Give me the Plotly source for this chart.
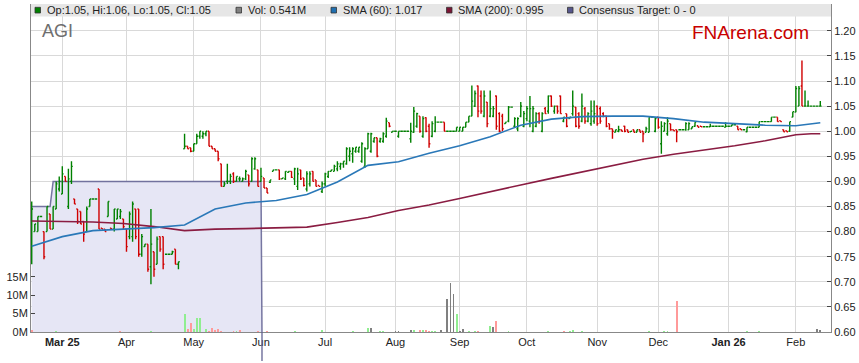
import pandas as pd
import plotly.graph_objects as go

# ---------------- data ----------------
dates = pd.bdate_range("2025-02-17", "2026-02-12")  # trading-day axis (weekdays)

opens = [
    .815, .80, .80, .83, .80, .80, .835, .805, .845, .885,
    .875, .91, .85, .90, .865, .845, .84, .82, .80, .85,
    .865, .865, .885, .807, .805, .83, .807, .805, .825, .83,
    .825, .805, .79, .79, .845, .845, .755, .77, .775, .73,
    .76, .735, .79, .79, .755, .755, .755, .765, .735, None,
    .965, .97, .967, .96, .975, .99, .99, .995, 1.00, .97,
    .965, .96, .935, .89, .90, .90, .915, .90, .905, .90,
    .905, .913, .90, .925, .923, .90, .907, .887, .898, .92,
    .923, .923, .905, .905, .918, .92, .905, .89, .923, .907,
    .885, .895, .92, .903, .892, .88, .895, .91, .92, .92,
    .925, .93, .935, .935, .95, .955, .96, .96, .94, .93,
    .965, .96, .98, .987, .98, .98, .99, 1.017, .998, 1.0,
    .99, 1.0, 1.0, 1.0, .985, .998, 1.01, 1.03, .99, 1.027,
    1.01, .99, 1.0, 1.018, 1.018, 1.018, 1.0, 1.0, 1.0, 1.0,
    1.0, 1.0, 1.008, 1.018, 1.03, 1.05, 1.09, 1.07, 1.03, 1.058,
    1.03, 1.03, 1.07, 1.035, 1.03, 1.015, 1.02, 1.048, 1.01, 1.005,
    1.03, 1.01, 1.025, 1.02, 1.0, 1.01, 1.035, 1.0, 1.045, 1.04,
    1.07, 1.04, 1.05, 1.07, 1.02, 1.035, 1.025, 1.035, 1.048, 1.035,
    1.02, 1.045, 1.02, 1.015, 1.02, 1.05, 1.045, 1.035, 1.03, 1.015,
    1.005, .998, 1.0, 1.003, 1.01, 1.003, .999, 1.003, .998, 1.003,
    1.0, .998, .998, 1.028, 1.0, 1.028, .975, 1.0, .995, 1.015,
    1.003, 1.003, 1.003, 1.003, 1.003, 1.003, 1.005, 1.01, 1.011, 1.01,
    1.009, 1.009, 1.009, 1.01, 1.01, 1.01, 1.01, 1.008, 1.01, 1.01,
    1.013, 1.01, 1.005, 1.003, .999, 1.008, 1.008, 1.008, 1.008, 1.019,
    1.019, 1.019, 1.019, 1.028, 1.028, 1.021, 1.003, 1.001, 1.0, 1.028,
    1.038, 1.05, 1.09, 1.05, 1.05, 1.05, 1.05, 1.05, 1.05,
]
highs = [
    .86, .815, .83, .83, .80, .85, .835, .85, .90, .91,
    .93, .91, .925, .94, .865, .845, .84, .82, .85, .865,
    .865, .865, .885, .807, .805, .86, .807, .845, .845, .845,
    .825, .805, .84, .86, .845, .845, .795, .775, .775, .845,
    .76, .79, .79, .79, .755, .755, .762, .765, .74, None,
    .995, .97, .967, .975, .995, 1.0, 1.0, 1.0, 1.0, .97,
    .965, .96, .935, .90, .935, .915, .918, .91, .91, .908,
    .923, .913, .948, .948, .923, .927, .907, .887, .903, .923,
    .923, .923, .907, .92, .92, .92, .927, .927, .923, .907,
    .92, .92, .92, .903, .892, .90, .917, .92, .923, .933,
    .94, .937, .94, .968, .968, .968, .968, .968, .978, .968,
    .997, .997, .987, .987, .987, .998, 1.027, 1.017, 1.0, 1.0,
    1.0, 1.0, 1.0, 1.0, 1.017, 1.048, 1.037, 1.03, 1.03, 1.028,
    1.015, 1.02, 1.03, 1.018, 1.018, 1.018, 1.0, 1.0, 1.0, 1.008,
    1.008, 1.008, 1.018, 1.03, 1.091, 1.081, 1.091, 1.081, 1.081, 1.058,
    1.081, 1.05, 1.071, 1.038, 1.035, 1.018, 1.05, 1.048, 1.028, 1.028,
    1.058, 1.04, 1.05, 1.07, 1.05, 1.038, 1.038, 1.038, 1.048, 1.071,
    1.071, 1.051, 1.051, 1.071, 1.028, 1.035, 1.028, 1.081, 1.048, 1.038,
    1.075, 1.048, 1.038, 1.061, 1.061, 1.051, 1.049, 1.038, 1.031, 1.015,
    1.005, 1.003, 1.011, 1.003, 1.011, 1.003, 1.0, 1.003, 1.003, 1.003,
    1.0, 1.009, 1.028, 1.028, 1.028, 1.028, 1.02, 1.018, 1.028, 1.015,
    1.003, 1.003, 1.003, 1.003, 1.018, 1.018, 1.009, 1.018, 1.011, 1.01,
    1.009, 1.009, 1.015, 1.01, 1.01, 1.01, 1.01, 1.018, 1.01, 1.013,
    1.013, 1.01, 1.005, 1.003, 1.008, 1.008, 1.008, 1.008, 1.019, 1.019,
    1.019, 1.019, 1.028, 1.028, 1.028, 1.021, 1.003, 1.001, 1.019, 1.039,
    1.09, 1.09, 1.141, 1.081, 1.061, 1.05, 1.05, 1.05, 1.06,
]
lows = [
    .735, .80, .80, .83, .745, .80, .805, .805, .845, .88,
    .875, .90, .845, .895, .855, .815, .815, .78, .80, .85,
    .865, .865, .805, .805, .80, .83, .804, .80, .825, .825,
    .805, .76, .785, .78, .785, .75, .75, .77, .72, .695,
    .71, .735, .76, .725, .755, .755, .755, .735, .725, None,
    .965, .965, .958, .96, .975, .985, .985, .99, .97, .965,
    .96, .94, .89, .89, .895, .895, .897, .90, .90, .90,
    .903, .89, .90, .923, .89, .90, .887, .877, .897, .92,
    .923, .903, .905, .903, .917, .907, .893, .883, .903, .89,
    .88, .89, .90, .89, .89, .877, .89, .907, .92, .92,
    .92, .923, .927, .933, .94, .937, .957, .957, .937, .927,
    .965, .957, .977, .948, .977, .977, .987, 1.008, .998, 1.0,
    .987, 1.0, 1.0, 1.0, .977, .997, 1.007, .997, .987, .998,
    .967, .988, .998, 1.018, 1.018, 1.0, 1.0, 1.0, 1.0, 1.0,
    1.0, 1.0, 1.008, 1.018, 1.03, 1.048, 1.028, 1.035, 1.028, 1.008,
    1.028, 1.028, 1.003, .998, 1.0, 1.015, 1.018, 1.048, 1.008, 1.0,
    1.028, 1.008, 1.02, 1.008, .998, 1.008, 1.015, .998, 1.035, 1.035,
    1.048, 1.035, 1.035, 1.035, 1.018, 1.008, 1.025, 1.031, 1.008, 1.005,
    1.018, 1.015, 1.018, 1.011, 1.015, 1.011, 1.015, 1.028, 1.008, 1.003,
    .985, .998, .998, 1.0, .998, .998, .999, .998, .998, .998,
    .978, .998, .998, 1.028, .998, 1.005, .955, 1.0, .991, 1.001,
    1.001, .978, 1.003, 1.003, 1.001, 1.003, 1.005, 1.009, 1.008, 1.009,
    1.009, 1.009, 1.009, 1.01, 1.01, 1.01, 1.01, 1.008, 1.01, 1.01,
    1.013, 1.003, 1.003, 1.003, .998, 1.008, 1.008, 1.008, 1.008, 1.019,
    1.019, 1.019, 1.019, 1.028, 1.019, 1.019, .999, .999, .999, 1.028,
    1.038, 1.05, 1.05, 1.05, 1.05, 1.05, 1.05, 1.05, 1.05,
]
closes = [
    .845, .815, .83, .83, .75, .85, .805, .85, .895, .90,
    .915, .90, .905, .93, .855, .82, .815, .795, .845, .865,
    .865, .865, .805, .805, .80, .86, .805, .845, .845, .84,
    .81, .77, .835, .855, .79, .755, .79, .775, .725, .775,
    .725, .785, .765, .735, .755, .755, .76, .735, .74, None,
    .97, .965, .96, .975, .99, 1.0, .995, 1.0, .97, .965,
    .96, .945, .89, .895, .90, .91, .90, .91, .905, .905,
    .92, .895, .945, .945, .89, .91, .887, .877, .903, .923,
    .923, .905, .907, .92, .92, .908, .925, .915, .905, .892,
    .915, .915, .90, .89, .89, .895, .915, .92, .923, .93,
    .935, .935, .94, .965, .96, .965, .968, .968, .975, .965,
    .995, .995, .987, .95, .985, .995, 1.02, 1.01, 1.0, 1.0,
    1.0, 1.0, 1.0, 1.0, 1.0, 1.04, 1.035, 1.0, 1.025, 1.0,
    .975, 1.015, 1.018, 1.018, 1.018, 1.0, 1.0, 1.0, 1.0, 1.008,
    1.008, 1.008, 1.018, 1.03, 1.06, 1.075, 1.04, 1.04, 1.07, 1.015,
    1.045, 1.045, 1.01, 1.0, 1.005, 1.018, 1.048, 1.048, 1.025, 1.025,
    1.05, 1.035, 1.045, 1.045, 1.045, 1.035, 1.02, 1.035, 1.035, 1.07,
    1.05, 1.05, 1.04, 1.035, 1.028, 1.01, 1.028, 1.05, 1.01, 1.01,
    1.05, 1.02, 1.035, 1.04, 1.035, 1.015, 1.02, 1.03, 1.01, 1.005,
    1.0, 1.003, 1.003, 1.0, 1.0, .998, 1.0, .998, 1.003, .998,
    .995, 1.005, 1.028, 1.028, 1.025, 1.008, 1.01, 1.015, 1.02, 1.003,
    1.001, .999, 1.003, 1.003, 1.015, 1.015, 1.009, 1.018, 1.008, 1.009,
    1.009, 1.009, 1.01, 1.01, 1.01, 1.01, 1.01, 1.01, 1.01, 1.013,
    1.013, 1.003, 1.003, 1.003, 1.008, 1.008, 1.008, 1.008, 1.019, 1.019,
    1.019, 1.019, 1.028, 1.028, 1.019, 1.019, .999, .999, 1.019, 1.039,
    1.085, 1.085, 1.05, 1.05, 1.05, 1.05, 1.05, 1.05, 1.05,
]
volumes_m = [
    0.45, 0, 0, 0, 0, 0, 0, 0, 0.2, 0,
    0, 0, 0, 0, 0, 0, 0, 0, 0, 0,
    0, 0, 0, 0, 0, 0, 0, 0, 0, 0.3,
    0, 0, 0, 0, 0, 0, 0, 0, 0, 0.2,
    0, 0, 0, 0, 0, 0, 0, 0, 0, 0,
    4.8, 0.7, 2.4, 0.7, 3.7, 3.9, 0, 0.7, 0.4, 1.0,
    0.55, 0.7, 0.3, 0, 0, 0, 0.2, 0.2, 0.45, 0,
    0, 0, 0, 0, 0.3, 0, 0, 0.15, 0, 0,
    0, 0, 0, 0, 0, 0, 0.2, 0, 0, 0,
    0, 0, 0, 0, 0, 0.45, 0, 0, 0, 0,
    0, 0, 0, 0, 0, 0.3, 0, 0, 0, 0,
    1.2, 1.0, 0, 0, 0.3, 0.3, 0, 0, 0, 0.3,
    0.3, 0, 0, 0, 0.45, 0.45, 0, 0.65, 0.45, 0.45,
    0.2, 0.2, 0.2, 0, 0.45, 0, 8.9, 13.3, 10.3, 4.8,
    0.2, 0.9, 0, 0.2, 0, 0.2, 0.2, 0, 0, 0,
    1.5, 1.3, 2.9, 0, 0, 0, 0.2, 0, 0, 0,
    0, 0, 0, 0, 0, 0, 0, 0, 0, 0.2,
    0, 0, 0, 0, 0.2, 0, 0.2, 0.45, 0, 0,
    0.2, 0, 0, 0, 0, 0, 0, 0, 0, 0,
    0, 0, 0, 0, 0, 0, 0, 0, 0, 0,
    0, 0, 0.2, 0, 0, 0, 0, 0.2, 0.2, 0,
    0, 8.4, 0, 0, 0, 0, 0, 0, 0, 0,
    0, 0, 0, 0, 0, 0, 0, 0, 0, 0,
    0, 0, 0, 0, 0.2, 0, 0, 0, 0.2, 0,
    0, 0, 0, 0, 0, 0, 0, 0, 0, 0,
    0, 0, 0, 0, 0, 0, 0, 0.7, 0.541,
]

sma_idx = [0, 10, 20, 30, 40, 50, 60, 70, 80, 90, 100, 110, 120, 130,
           140, 150, 160, 170, 180, 190, 200, 210, 220, 230, 240, 250, 255, 258]
sma60 = [.771, .79, .802, .805, .808, .813, .845, .857, .862, .874, .899, .932, .939, .956,
         .971, .989, 1.012, 1.024, 1.029, 1.03, 1.03, 1.025, 1.018, 1.015, 1.012, 1.011, 1.014, 1.017]
sma200 = [.821, .82, .819, .816, .81, .802, .805, .806, .807, .809, .818, .828, .842, .853,
          .866, .88, .893, .906, .919, .932, .944, .954, .962, .971, .981, .993, .995, .995]

# consensus target
target_dates = ["2025-02-17", "2025-02-25", "2025-02-26", "2025-06-02", "2025-06-03", "2026-02-12"]
target_vals = [0.85, 0.85, 0.90, 0.90, 0.0, 0.0]

price_ticks = [0.60, 0.65, 0.70, 0.75, 0.80, 0.85, 0.90, 0.95, 1.00, 1.05, 1.10, 1.15, 1.20]
vol_ticks_m = [0, 5, 10, 15]

# ---------------- build ----------------
n = len(dates)
idx = list(range(n))
pos = {d.strftime("%Y-%m-%d"): i for i, d in enumerate(dates)}

GREEN, RED = "#008000", "#D00000"
PRICE_MIN, PRICE_MAX = 0.60, 1.2534
VOL_MAX = 89.1e6

fig = go.Figure()

# consensus target (base axis, drawn underneath everything)
tx = [pos[d] for d in target_dates]
fig.add_trace(go.Scatter(
    x=tx, y=target_vals, mode="lines", fill="tozeroy",
    fillcolor="#E6E6F5", line=dict(color="rgba(95,95,145,0.85)", width=1.5),
    yaxis="y", hoverinfo="skip"))

# volume (colour by close vs previous close)
vcol = []
prev = None
for c in closes:
    if c is None:
        vcol.append("#808080")
        continue
    if prev is None:
        vcol.append("#FF9A9A")
    elif c == prev:
        vcol.append("#808080")
    elif c > prev:
        vcol.append("#90EE90")
    else:
        vcol.append("#FF9A9A")
    prev = c
fig.add_trace(go.Bar(
    x=idx, y=[v * 1e6 for v in volumes_m], marker=dict(color=vcol, line=dict(width=0)),
    width=0.62, yaxis="y2", hoverinfo="skip"))

# OHLC split by direction (close >= open -> green)
up = [i for i in idx if opens[i] is not None and closes[i] >= opens[i]]
dn = [i for i in idx if opens[i] is not None and closes[i] < opens[i]]
for sel, col in ((up, GREEN), (dn, RED)):
    fig.add_trace(go.Ohlc(
        x=sel, open=[opens[i] for i in sel], high=[highs[i] for i in sel],
        low=[lows[i] for i in sel], close=[closes[i] for i in sel],
        increasing=dict(line=dict(color=col, width=1.4)),
        decreasing=dict(line=dict(color=col, width=1.4)),
        tickwidth=0.42, yaxis="y3", hoverinfo="skip"))

fig.add_trace(go.Scatter(x=sma_idx, y=sma200, mode="lines",
                         line=dict(color="#8A1C42", width=1.6), yaxis="y3", hoverinfo="skip"))
fig.add_trace(go.Scatter(x=sma_idx, y=sma60, mode="lines",
                         line=dict(color="#2A78B8", width=1.6), yaxis="y3", hoverinfo="skip"))

# month ticks
tickvals, ticktext = [], []
last_month = None
for i, d in enumerate(dates):
    if d.month != last_month:
        if last_month is not None:
            tickvals.append(i)
            if d.month == 1 or not ticktext:
                ticktext.append("<b>" + d.strftime("%b %y") + "</b>")
            else:
                ticktext.append(d.strftime("%b"))
        last_month = d.month

W, H = 859, 363
L, R, T, B = 31, 28, 4, 31
PW, PH = W - L - R, H - T - B


def px(xp):
    return (xp - L) / PW


def py(yp):
    return (H - B - yp) / PH


shapes = []
annotations = []
# legend band
shapes.append(dict(type="rect", xref="paper", yref="paper", x0=0, x1=1, y0=py(16.5), y1=1,
                   fillcolor="#E6E6E6", line=dict(width=0), layer="above"))
legend_items = [
    (35, "#008000", "Op:%.2f, Hi:%.2f, Lo:%.2f, Cl:%.2f" % (opens[-1], highs[-1], lows[-1], closes[-1])),
    (236, "#808080", "Vol: %.3fM" % volumes_m[-1]),
    (331, "#1F6FB0", "SMA (60): %.3f" % sma60[-1]),
    (446.5, "#7A1434", "SMA (200): %.3f" % sma200[-1]),
    (567.5, "#56568C", "Consensus Target: 0 - 0"),
]
for x0, col, txt in legend_items:
    shapes.append(dict(type="rect", xref="paper", yref="paper", x0=px(x0), x1=px(x0 + 5.5),
                       y0=py(13), y1=py(7.3), fillcolor=col, line=dict(color="#333", width=0.8),
                       layer="above"))
    annotations.append(dict(xref="paper", yref="paper", x=px(x0 + 9.5), y=py(10.2), xanchor="left",
                            yanchor="middle", text=txt, showarrow=False,
                            font=dict(size=11, color="#222")))

annotations.append(dict(xref="paper", yref="paper", x=px(40), y=py(31), xanchor="left", yanchor="middle",
                        text="AGI", showarrow=False, font=dict(size=18, color="#6E6E6E")))
annotations.append(dict(xref="paper", yref="paper", x=px(690), y=py(33), xanchor="left", yanchor="middle",
                        text="FNArena.com", showarrow=False, font=dict(size=19, color="#C80000")))

# target line continuing below the axis where it drops to zero
k = target_vals.index(0.0)
x_hi, x_lo = tx[k - 1], tx[k]
v_hi = target_vals[k - 1]
x_cross = x_hi + (v_hi - PRICE_MIN) / v_hi * (x_lo - x_hi)
shapes.append(dict(type="line", xref="x", yref="paper", x0=x_cross, x1=x_cross, y0=0, y1=py(361),
                   line=dict(color="rgba(95,95,145,0.85)", width=1.5)))

fig.update_layout(
    width=W, height=H, margin=dict(l=L, r=R, t=T, b=B, autoexpand=False),
    paper_bgcolor="white", plot_bgcolor="white", showlegend=False,
    font=dict(family="Liberation Sans, Arial, sans-serif", size=11, color="#222"),
    bargap=0,
    xaxis=dict(range=[-0.24, 261.5], tickvals=tickvals, ticktext=ticktext, showgrid=True,
               gridcolor="#D9D9D9", gridwidth=1, showline=True, linecolor="#888", linewidth=1,
               ticks="", zeroline=False, rangeslider=dict(visible=False), fixedrange=True,
               automargin=False),
    yaxis=dict(range=[PRICE_MIN, PRICE_MAX], tickvals=price_ticks, showgrid=True, gridcolor="#D9D9D9",
               gridwidth=1, showticklabels=False, ticks="", showline=False, zeroline=False,
               automargin=False, fixedrange=True),
    yaxis2=dict(overlaying="y", side="left", range=[0, VOL_MAX], tickvals=[v * 1e6 for v in vol_ticks_m],
                ticktext=["%dM" % v for v in vol_ticks_m], showgrid=False, showline=True,
                linecolor="#888", linewidth=1, ticks="inside", ticklen=4, tickcolor="#444",
                zeroline=False, automargin=False, fixedrange=True),
    yaxis3=dict(overlaying="y", side="right", range=[PRICE_MIN, PRICE_MAX], tickvals=price_ticks,
                ticktext=["%.2f" % v for v in price_ticks], showgrid=False, showline=True,
                linecolor="#888", linewidth=1, ticks="inside", ticklen=4, tickcolor="#444",
                zeroline=False, automargin=False, fixedrange=True),
    shapes=shapes, annotations=annotations,
)

fig.write_html("out.html", config={"displayModeBar": False, "staticPlot": True},
               post_script="document.body.style.margin='0';document.body.style.overflow='hidden';")
